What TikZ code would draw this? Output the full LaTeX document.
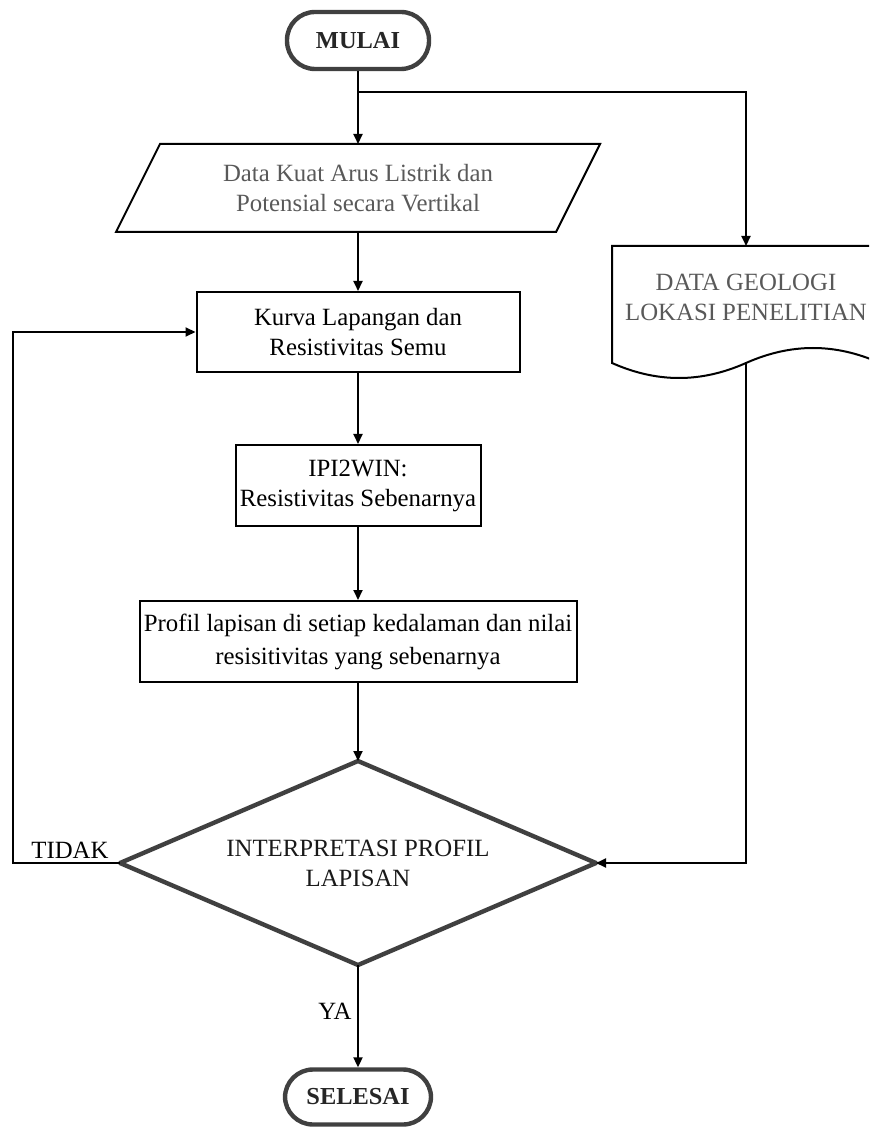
\documentclass[tikz,border=0pt]{standalone}
\usepackage{fontspec}
\setmainfont{Liberation Serif}
\usetikzlibrary{arrows.meta,calc}
\definecolor{tgray}{HTML}{404040}
\definecolor{txtgray}{HTML}{595959}
\begin{document}
\begin{tikzpicture}[x=0.5pt,y=-0.5pt,
  every node/.style={font=\fontsize{12.4}{15}\selectfont, align=center},
  term/.style={draw=tgray, line width=2.2pt, rounded corners=14pt, minimum width=71pt, minimum height=28.5pt, inner sep=0pt, font=\fontsize{12.2}{15}\selectfont\bfseries, text=black!85},
  procbox/.style={draw=black, line width=1pt, inner sep=0pt},
  plain/.style={inner sep=0pt, outer sep=0pt},
  thinline/.style={draw=black, line width=1pt},
  thickline/.style={draw=tgray, line width=2.2pt, line join=round},
  arr/.style={draw=black, line width=1pt, -{Triangle[length=5pt,width=4.5pt]}},
  lbl/.style={inner sep=0pt, text=black}]
\useasboundingbox (0,0) rectangle (869,1127);
\clip (0,0) rectangle (869,1127);

% nodes
\node[term] (mulai) at (358,40.5) {MULAI};
\node[plain, minimum width=220pt, minimum height=44pt, text=txtgray] (data) at (358,188) {Data Kuat Arus Listrik dan\\Potensial secara Vertikal};
\draw[thinline] ($(data.north west)+(22,0)$) -- ($(data.north east)+(22,0)$) -- ($(data.south east)+(-22,0)$) -- ($(data.south west)+(-22,0)$) -- cycle;

\node[procbox, minimum width=161.5pt, minimum height=40pt] (kurva) at (358,332) {Kurva Lapangan dan\\Resistivitas Semu};
\node[procbox, minimum width=122.5pt, minimum height=40.5pt] (ipi) at (358,485.5) {IPI2WIN:\\Resistivitas Sebenarnya};
\node[procbox, minimum width=218.5pt, minimum height=40.5pt, font=\fontsize{12.4}{16.5}\selectfont] (profil) at (358,641.5) {Profil lapisan di setiap kedalaman dan nilai\\resisitivitas yang sebenarnya};

\node[plain, minimum width=238pt, minimum height=102pt, text=black!90] (dia) at (358,863) {INTERPRETASI PROFIL\\LAPISAN};
\draw[thickline] (dia.north) -- (dia.east) -- (dia.south) -- (dia.west) -- cycle;

\node[term, minimum width=73pt, minimum height=27.5pt] (selesai) at (358,1097) {SELESAI};

\node[plain, minimum width=134pt, minimum height=51.5pt, text=txtgray] (geo) at (746,297.5) {DATA GEOLOGI\\LOKASI PENELITIAN};
\coordinate (geob) at ($(geo.south)+(0,14)$);
\draw[thinline] ($(geo.south east)+(0,14)$) -- (geo.north east) -- (geo.north west) -- ($(geo.south west)+(0,14)$)
  .. controls +(45,20) and +(-45,20) .. (geob)
  .. controls +(45,-20) and +(-45,-20) .. ($(geo.south east)+(0,14)$);

% labels
\node[lbl] (tidak) at (70,850) {TIDAK};
\node[lbl] (ya) at (335,1011) {YA};

% connectors
\coordinate (br) at (358,92);
\draw[arr] (mulai.south) -- (data.north);
\draw[arr] (br) -| (geo.north);
\draw[arr] (data.south) -- (kurva.north);
\draw[arr] (kurva.south) -- (ipi.north);
\draw[arr] (ipi.south) -- (profil.north);
\draw[arr] (profil.south) -- (dia.north);
\draw[arr] (dia.south) -- (selesai.north);
\draw[arr] (geob) |- (dia.east);
\draw[arr] (dia.west) -- ++(-107,0) |- (kurva.west);
\end{tikzpicture}
\end{document}
